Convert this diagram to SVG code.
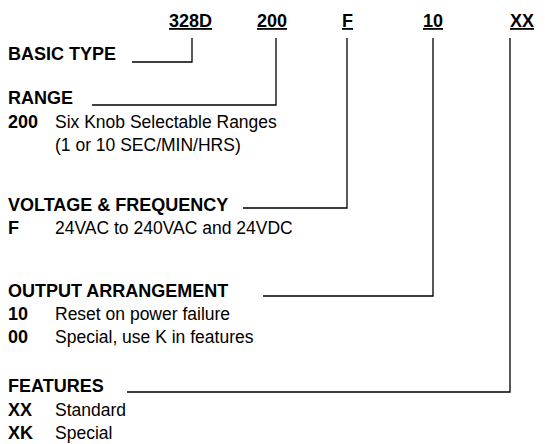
<svg xmlns="http://www.w3.org/2000/svg" width="545" height="444" viewBox="0 0 545 444">
<style>
text{font-family:"Liberation Sans",Arial,sans-serif;font-size:17.5px;fill:#000}
.b{font-weight:bold;font-size:18px}
.u{text-decoration:underline}
.c{fill:none;stroke:#000;stroke-width:1.3}
</style>
<rect width="545" height="444" fill="#fff"/>
<g id="code">
<text class="b u" x="169" y="27">328D</text>
<text class="b u" x="257" y="27">200</text>
<text class="b u" x="342" y="27">F</text>
<text class="b u" x="423" y="27">10</text>
<text class="b u" x="510" y="27">XX</text>
</g>
<g id="connectors">
<polyline class="c" points="132,62 192,62 192,38"/>
<polyline class="c" points="92,105 276,105 276,38"/>
<polyline class="c" points="243,208 347,208 347,38"/>
<polyline class="c" points="263,296 433,296 433,38"/>
<polyline class="c" points="127,392 510,392 510,38"/>
</g>
<g id="basic-type"><text class="b" x="8" y="60">BASIC TYPE</text></g>
<g id="range">
<text class="b" x="8" y="104">RANGE</text>
<text class="b" x="8" y="128">200</text>
<text x="55" y="128">Six Knob Selectable Ranges</text>
<text x="55" y="151">(1 or 10 SEC/MIN/HRS)</text>
</g>
<g id="voltage">
<text class="b" x="8" y="211">VOLTAGE &amp; FREQUENCY</text>
<text class="b" x="8" y="234">F</text>
<text x="55" y="234">24VAC to 240VAC and 24VDC</text>
</g>
<g id="output">
<text class="b" x="8" y="297">OUTPUT ARRANGEMENT</text>
<text class="b" x="8" y="320">10</text>
<text x="55" y="320">Reset on power failure</text>
<text class="b" x="8" y="343">00</text>
<text x="55" y="343">Special, use K in features</text>
</g>
<g id="features">
<text class="b" x="8" y="392">FEATURES</text>
<text class="b" x="8" y="416">XX</text>
<text x="55" y="416">Standard</text>
<text class="b" x="8" y="439">XK</text>
<text x="55" y="439">Special</text>
</g>
</svg>
